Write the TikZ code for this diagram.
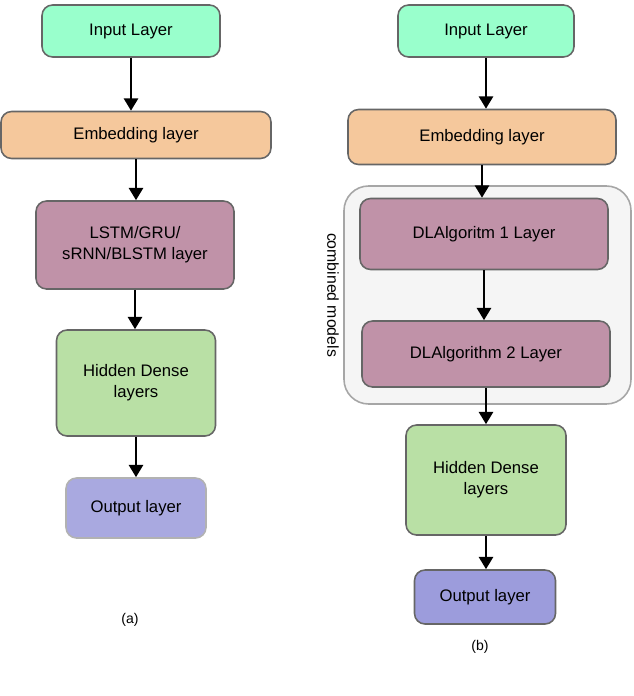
\documentclass[tikz,border=0pt]{standalone}
\usepackage{fontspec}
\setmainfont{Liberation Sans}
\usetikzlibrary{arrows.meta}
\definecolor{inputC}{HTML}{99FFCC}
\definecolor{embedC}{HTML}{F5C89C}
\definecolor{rnnC}{HTML}{C092A8}
\definecolor{denseC}{HTML}{B9E0A5}
\definecolor{outC}{HTML}{A9A9E0}
\definecolor{outbC}{HTML}{9C9CDC}
\tikzset{
    layer/.style={draw=black!60, line width=0.9pt, rounded corners=6pt, align=center,
        font=\fontsize{9.5}{12}\selectfont, inner sep=0pt},
    flow/.style={-{Triangle[length=7pt,width=8pt]}, line width=1.4pt}
}
\begin{document}
\begin{tikzpicture}[x=0.02cm, y=-0.02cm]
    \useasboundingbox (0,0) rectangle (634,696);

    % (a)
    \node[layer, fill=inputC, minimum width=178*0.02cm, minimum height=52*0.02cm] (inA) at (131,31) {Input Layer};
    \node[layer, fill=embedC, minimum width=270*0.02cm, minimum height=47*0.02cm] (embA) at (136,135) {Embedding layer};
    \node[layer, fill=rnnC, minimum width=198*0.02cm, minimum height=88*0.02cm] (rnnA) at (135,245) {LSTM/GRU/\\sRNN/BLSTM layer};
    \node[layer, fill=denseC, minimum width=159*0.02cm, minimum height=106*0.02cm] (denseA) at (136,383) {Hidden Dense\\layers};
    \node[layer, fill=outC, draw=black!30, minimum width=140*0.02cm, minimum height=60*0.02cm] (outA) at (136,508) {Output layer};
    \node[font=\fontsize{8}{10}\selectfont] (capA) at (130,620) {(a)};

    \draw[flow] (inA.south) -- (inA.south |- embA.north);
    \draw[flow] (embA.south) -- (embA.south |- rnnA.north);
    \draw[flow] (rnnA.south) -- (rnnA.south |- denseA.north);
    \draw[flow] (denseA.south) -- (denseA.south |- outA.north);

    % (b)
    \node[draw=black!35, fill=black!4, line width=0.9pt, rounded corners=14pt,
        minimum width=287*0.02cm, minimum height=218*0.02cm] (comb) at (487.5,295) {};
    \node[rotate=-90, font=\fontsize{9}{11}\selectfont] (combL) at (333,295) {combined models};
    \node[layer, fill=inputC, minimum width=176*0.02cm, minimum height=52*0.02cm] (inB) at (486,31) {Input Layer};
    \node[layer, fill=embedC, minimum width=268*0.02cm, minimum height=55*0.02cm] (embB) at (482,137) {Embedding layer};
    \node[layer, fill=rnnC, minimum width=248*0.02cm, minimum height=71*0.02cm] (dlOne) at (484,234) {DLAlgoritm 1 Layer};
    \node[layer, fill=rnnC, minimum width=248*0.02cm, minimum height=66*0.02cm] (dlTwo) at (486,354) {DLAlgorithm 2 Layer};
    \node[layer, fill=denseC, minimum width=160*0.02cm, minimum height=110*0.02cm] (denseB) at (486,480) {Hidden Dense\\layers};
    \node[layer, fill=outbC, minimum width=141*0.02cm, minimum height=54*0.02cm] (outB) at (485,597) {Output layer};
    \node[font=\fontsize{8}{10}\selectfont] (capB) at (480,647) {(b)};

    \draw[flow] (inB.south) -- (inB.south |- embB.north);
    \draw[flow] (embB.south) -- (embB.south |- dlOne.north);
    \draw[flow] (dlOne.south) -- (dlOne.south |- dlTwo.north);
    \draw[flow] (dlTwo.south) -- (dlTwo.south |- denseB.north);
    \draw[flow] (denseB.south) -- (denseB.south |- outB.north);
\end{tikzpicture}
\end{document}
